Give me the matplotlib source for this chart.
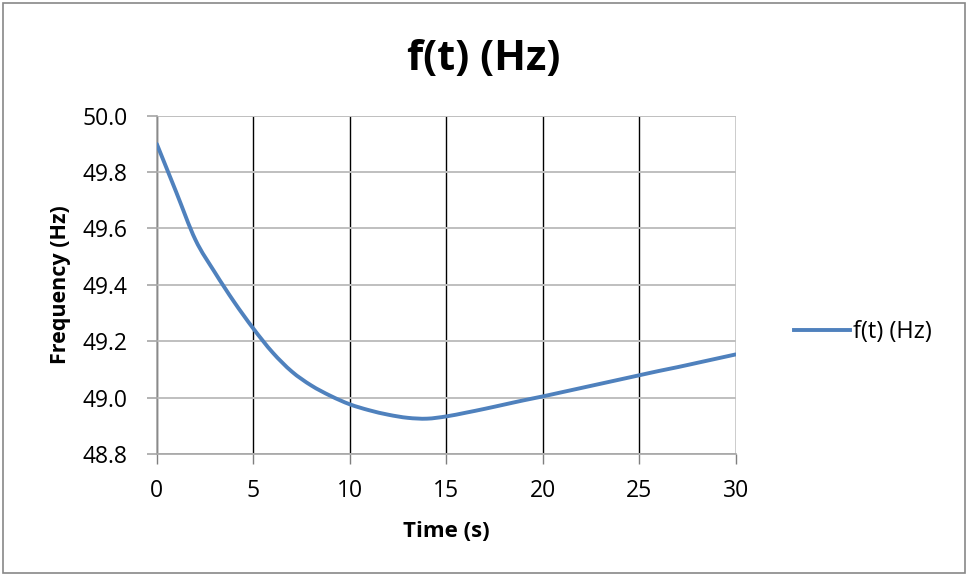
import matplotlib.pyplot as plt
from matplotlib.patches import Rectangle, PathPatch
from matplotlib.path import Path
from matplotlib.lines import Line2D

# frequency response after the disturbance, sampled once per second
time_s = [0, 1, 2, 3, 4, 5, 6, 7, 8, 9, 10, 11, 12, 13, 14, 15,
          16, 17, 18, 19, 20, 21, 22, 23, 24, 25, 26, 27, 28, 29, 30]
freq_hz = [49.90, 49.73, 49.56, 49.445, 49.34, 49.245, 49.16, 49.092, 49.043, 49.006,
           48.976, 48.955, 48.939, 48.928, 48.925, 48.933,
           48.946, 48.960, 48.975, 48.990, 49.004, 49.019, 49.034, 49.049, 49.064,
           49.079, 49.094, 49.108, 49.123, 49.138, 49.153]

x_ticks = [0, 5, 10, 15, 20, 25, 30]
y_ticks = [48.8, 49.0, 49.2, 49.4, 49.6, 49.8, 50.0]

series_name = 'f(t) (Hz)'
line_color = '#4F81BD'


def smooth_path(xs, ys):
    # spreadsheet-style smoothed line: cubic Bezier through every sample
    n = len(xs)
    verts = [(xs[0], ys[0])]
    codes = [Path.MOVETO]
    for i in range(n - 1):
        i0 = max(i - 1, 0)
        i3 = min(i + 2, n - 1)
        c1 = (xs[i] + (xs[i + 1] - xs[i0]) / 6, ys[i] + (ys[i + 1] - ys[i0]) / 6)
        c2 = (xs[i + 1] - (xs[i3] - xs[i]) / 6, ys[i + 1] - (ys[i3] - ys[i]) / 6)
        verts += [c1, c2, (xs[i + 1], ys[i + 1])]
        codes += [Path.CURVE4] * 3
    return Path(verts, codes)


plt.rcParams['font.family'] = ['Open Sans', 'DejaVu Sans']

fig = plt.figure(figsize=(9.68, 5.76), dpi=100)
ax = fig.add_axes([0.162, 0.212, 0.598, 0.587])

curve = PathPatch(smooth_path(time_s, freq_hz), fill=False, edgecolor=line_color,
                  lw=2.8, capstyle='round', joinstyle='round', zorder=3)
ax.add_patch(curve)

ax.set_xlim(0, 30)
ax.set_ylim(48.8, 50.0)
ax.set_xticks(x_ticks)
ax.set_yticks(y_ticks)
ax.set_yticklabels([f'{v:.1f}' for v in y_ticks])
ax.tick_params(axis='y', labelsize=16.5, length=7, width=1.2, color='#A6A6A6', pad=14)
ax.tick_params(axis='x', labelsize=16.5, length=7, width=1.0, color='#7F7F7F', pad=11)

ax.yaxis.grid(True, color='#BFBFBF', lw=1.4)
ax.xaxis.grid(True, color='black', lw=1.0)
ax.set_axisbelow(True)
for s in ['top', 'right']:
    ax.spines[s].set_visible(False)
for s in ['left', 'bottom']:
    ax.spines[s].set_color('#A6A6A6')
    ax.spines[s].set_linewidth(1.2)

ax.set_xlabel('Time (s)', fontsize=16, fontweight='bold', labelpad=13)
ax.set_ylabel('Frequency (Hz)', fontsize=15.5, fontweight='bold', labelpad=8)
fig.text(0.5, 0.897, series_name, ha='center', va='center', fontsize=30, fontweight='bold')

handle = Line2D([], [], color=line_color, lw=2.8)
fig.legend(handles=[handle], labels=[series_name], loc='center left',
           bbox_to_anchor=(0.82, 0.424), frameon=False, fontsize=17,
           handlelength=2.4, handletextpad=0.1, borderpad=0, borderaxespad=0)

# outer chart border
fig.patches.append(Rectangle((0.003, 0.005), 0.994, 0.99, transform=fig.transFigure,
                             fill=False, edgecolor='#878787', lw=1.2))

fig.savefig('out.png', dpi=100)
